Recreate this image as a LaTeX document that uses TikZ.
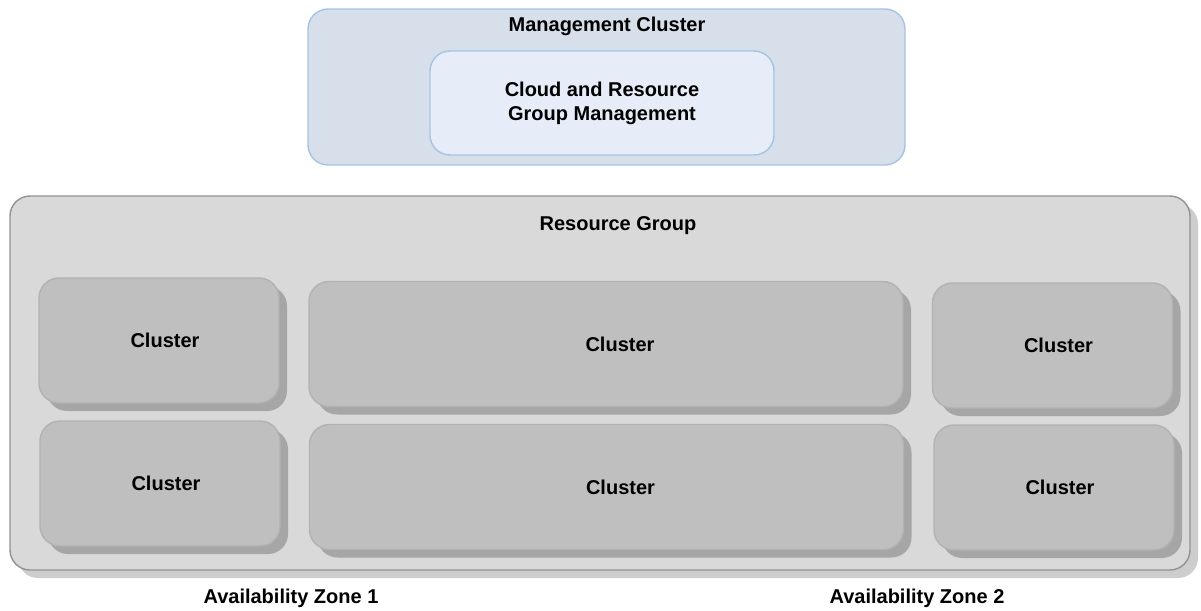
\documentclass[tikz,border=0pt]{standalone}
\usepackage{fontspec}
\setmainfont{Liberation Sans}
\usetikzlibrary{shapes,shadows}
\definecolor{mgmtfill}{HTML}{D6DFEA}
\definecolor{mgmtline}{HTML}{A6C3E6}
\definecolor{innerfill}{HTML}{E6EDF8}
\definecolor{groupfill}{HTML}{D9D9D9}
\definecolor{groupline}{HTML}{929292}
\definecolor{groupshadow}{HTML}{CDCDCD}
\definecolor{clusterfill}{HTML}{BFBFBF}
\definecolor{clusterline}{HTML}{B2B2B2}
\definecolor{clustershadow}{HTML}{A6A6A6}

\begin{document}
\begin{tikzpicture}[x=0.5pt,y=-0.5pt,font=\bfseries,line width=0.7pt]
\tikzstyle{box}=[rectangle,rounded corners=10pt,inner sep=0pt]
\tikzstyle{mgmt}=[box,draw=mgmtline,fill=mgmtfill]
\tikzstyle{inner}=[box,draw=mgmtline,fill=innerfill,align=center]
\tikzstyle{group}=[box,draw=groupline,fill=groupfill,
  drop shadow={shadow xshift=4pt,shadow yshift=-4pt,fill=groupshadow,opacity=1}]
\tikzstyle{cluster}=[box,draw=clusterline,fill=clusterfill,minimum height=62.5pt,
  drop shadow={shadow xshift=4pt,shadow yshift=-4pt,fill=clustershadow,opacity=1}]
\tikzstyle{side}=[cluster,minimum width=120pt]
\tikzstyle{mid}=[cluster,minimum width=297pt]
\useasboundingbox (0,0) rectangle (1201,611);

% management cluster
\node[mgmt,minimum width=298.5pt,minimum height=78pt] (mgmt) at (606.5,87) {};
\node (mgmttitle) at (607,26) {Management Cluster};
\node[inner,minimum width=172pt,minimum height=52pt] (cloud) at (602,103)
  {Cloud and Resource\\Group Management};

% resource group
\node[group,minimum width=590pt,minimum height=187pt] (group) at (600,383) {};
\node (grouptitle) at (618,226) {Resource Group};

% clusters, two rows
\node[side,label={[xshift=3pt]center:Cluster}] (c11) at (159,340.5) {};
\node[mid,label={[xshift=7pt]center:Cluster}] (c12) at (606,344) {};
\node[side,label={[xshift=3pt]center:Cluster}] (c13) at (1052.5,345.5) {};
\node[side,label={[xshift=3pt]center:Cluster}] (c21) at (160,483.5) {};
\node[mid,label={[xshift=7pt]center:Cluster}] (c22) at (606.5,487) {};
\node[side,label={[xshift=3pt]center:Cluster}] (c23) at (1054,487.5) {};

% zones
\node (zone1) at (291,598) {Availability Zone 1};
\node (zone2) at (917,598) {Availability Zone 2};
\end{tikzpicture}
\end{document}
